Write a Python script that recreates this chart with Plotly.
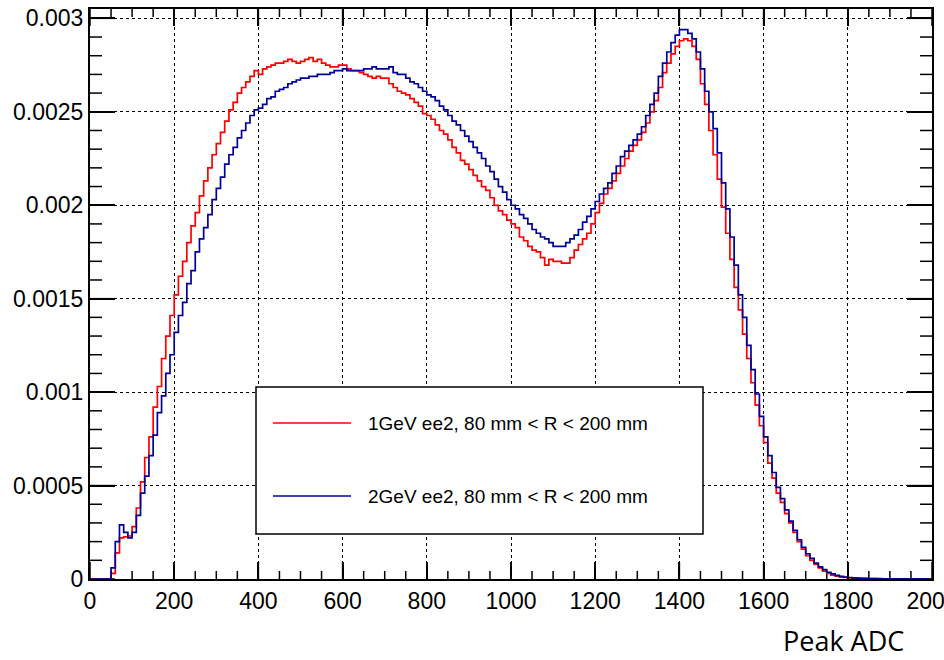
import plotly.graph_objects as go

# Histogram binning (ADC)
bin_start = 0
bin_width = 10
# Bin contents in units of 1e-4 (normalized entries), bins of 10 ADC from 0 to 2000
red_vals = [
    0, 0, 0, 0, 0,
    0.3, 1.4, 2.2, 2.25, 2.3, 2.8, 3.8, 5.2, 6.5, 7.6,
    9.2, 10.3, 11.8, 13.0, 14.1, 15.2, 16.2, 17.0, 18.0, 18.9,
    19.6, 20.5, 21.3, 22.0, 22.7, 23.3, 23.9, 24.5, 25.1, 25.5,
    26.0, 26.3, 26.6, 26.9, 27.2, 27.0, 27.3, 27.4, 27.5, 27.6,
    27.6, 27.7, 27.8, 27.7, 27.6, 27.7, 27.8, 27.9, 27.7, 27.8,
    27.6, 27.5, 27.4, 27.4, 27.5, 27.5, 27.3, 27.2, 27.2, 27.1,
    27.0, 26.9, 26.8, 26.9, 26.8, 26.8, 26.5, 26.3, 26.1, 26.0,
    25.9, 25.7, 25.5, 25.3, 24.9, 24.8, 24.6, 24.3, 24.0, 23.8,
    23.5, 23.1, 22.8, 22.4, 22.2, 21.9, 21.6, 21.3, 21.0, 20.8,
    20.4, 20.0, 19.7, 19.5, 19.2, 19.0, 18.8, 18.3, 18.1, 17.8,
    17.6, 17.5, 17.2, 16.8, 17.1, 17.0, 17.0, 16.9, 16.9, 17.2,
    17.6, 17.9, 18.2, 18.5, 19.0, 19.6, 20.1, 20.6, 20.9, 21.3,
    21.7, 22.1, 22.5, 22.9, 23.2, 23.5, 23.9, 24.4, 25.0, 25.6,
    26.3, 27.1, 27.6, 28.1, 28.5, 28.8, 28.9, 28.8, 28.5, 27.8,
    26.5, 25.4, 24.0, 22.7, 21.4, 19.9, 18.5, 17.1, 15.6, 14.4,
    13.1, 11.8, 10.5, 9.3, 8.2, 7.3, 6.2, 5.4, 4.6, 4.1,
    3.5, 3.0, 2.5, 2.0, 1.6, 1.25, 1.0, 0.78, 0.6, 0.42,
    0.3, 0.21, 0.15, 0.1, 0.08, 0.06, 0.05, 0.04, 0.03, 0.025,
    0.02, 0.015, 0.01, 0.008, 0.006, 0.005, 0.004, 0.004, 0.003, 0.003,
    0.002, 0.002, 0.002, 0.001, 0.001,
]
blue_vals = [
    0, 0, 0, 0, 0,
    0.6, 2.0, 2.9, 2.5, 2.2, 2.5, 3.4, 4.6, 5.5, 6.6,
    7.7, 8.9, 9.8, 11.0, 12.0, 13.2, 14.1, 14.8, 15.8, 16.5,
    17.5, 18.2, 18.8, 19.5, 20.3, 20.9, 21.5, 22.2, 22.7, 23.1,
    23.6, 24.0, 24.4, 24.8, 25.1, 25.2, 25.4, 25.7, 25.8, 26.1,
    26.2, 26.3, 26.5, 26.6, 26.7, 26.8, 26.8, 26.9, 26.9, 27.0,
    27.0, 27.0, 27.1, 27.2, 27.2, 27.3, 27.2, 27.2, 27.2, 27.2,
    27.3, 27.3, 27.4, 27.3, 27.3, 27.3, 27.4, 27.1, 27.0, 27.0,
    26.8, 26.6, 26.5, 26.3, 26.1, 25.9, 25.8, 25.6, 25.3, 25.1,
    24.8, 24.5, 24.3, 24.0, 23.7, 23.4, 23.1, 22.8, 22.5, 22.1,
    21.8, 21.4, 21.0, 20.7, 20.3, 20.0, 19.8, 19.5, 19.3, 19.0,
    18.7, 18.5, 18.3, 18.2, 18.0, 17.8, 17.8, 17.8, 18.0, 18.2,
    18.4, 18.7, 19.1, 19.4, 19.8, 20.2, 20.6, 20.9, 21.2, 21.7,
    22.1, 22.6, 22.9, 23.2, 23.5, 23.8, 24.2, 24.8, 25.4, 26.0,
    26.9, 27.6, 28.2, 28.7, 29.1, 29.4, 29.4, 29.2, 28.9, 28.2,
    27.3, 26.1, 25.0, 24.1, 22.8, 21.2, 19.8, 18.3, 16.8, 15.2,
    14.0, 12.5, 11.2, 9.9, 8.7, 7.6, 6.6, 5.7, 4.9, 4.3,
    3.7, 3.1, 2.6, 2.1, 1.7, 1.35, 1.1, 0.85, 0.65, 0.5,
    0.36, 0.27, 0.19, 0.14, 0.1, 0.08, 0.06, 0.05, 0.04, 0.03,
    0.025, 0.02, 0.015, 0.01, 0.008, 0.006, 0.005, 0.005, 0.004, 0.004,
    0.003, 0.003, 0.002, 0.002, 0.001,
]
value_unit = 1e-4

labels = ["1GeV ee2, 80 mm < R < 200 mm", "2GeV ee2, 80 mm < R < 200 mm"]
colors = ["#ff0000", "#000099"]

x_range = [0, 2000]
y_range = [0, 0.00305]
x_ticks = list(range(0, 2001, 200))
x_minor_ticks = list(range(0, 2001, 50))
y_ticks = [0, 0.0005, 0.001, 0.0015, 0.002, 0.0025, 0.003]
y_minor_ticks = [round(i * 0.0001, 4) for i in range(31)]


def step_xy(vals):
    xs = [bin_start + i * bin_width for i in range(len(vals) + 1)]
    ys = [v * value_unit for v in vals] + [vals[-1] * value_unit]
    return xs, ys


W, H = 944, 660
L, R, T, B = 90, 12, 9, 81
pw, ph = W - L - R, H - T - B
# axis units per pixel
ux = (x_range[1] - x_range[0]) / pw
uy = (y_range[1] - y_range[0]) / ph

fig = go.Figure()

# ROOT-style tick marks on all four sides, built from the tick arrays
tx, ty = [], []
for v in x_minor_ticks:
    ln = (17 if v in x_ticks else 8) * uy
    tx += [v, v, None, v, v, None]
    ty += [y_range[0], y_range[0] + ln, None, y_range[1], y_range[1] - ln, None]
for v in y_minor_ticks:
    ln = (25 if any(abs(v - t) < 1e-9 for t in y_ticks) else 12) * ux
    tx += [x_range[0], x_range[0] + ln, None, x_range[1], x_range[1] - ln, None]
    ty += [v, v, None, v, v, None]
fig.add_trace(go.Scatter(x=tx, y=ty, mode="lines", line=dict(color="black", width=1.5),
                         hoverinfo="skip", showlegend=False, connectgaps=False))

for vals, lab, col in zip([red_vals, blue_vals], labels, colors):
    xs, ys = step_xy(vals)
    fig.add_trace(go.Scatter(x=xs, y=ys, mode="lines", line=dict(color=col, width=1.7, shape="hv"),
                             name=lab, showlegend=False))


def px(x):
    return (x - L) / pw


def py(y):
    return (H - B - y) / ph


tickfont = dict(family="Liberation Sans, Arial, sans-serif", size=23, color="black")

base = dict(ticks="inside", tickwidth=1.5, tickcolor="black",
            showline=True, linecolor="black", linewidth=2, mirror="ticks",
            showgrid=True, gridcolor="black", griddash="dot", gridwidth=1,
            zeroline=False, tickfont=tickfont)

fig.update_xaxes(range=x_range, tickvals=x_ticks, ticklen=17, ticklabeloverflow="allow", **base)
fig.update_yaxes(range=y_range, tickvals=y_ticks, tickformat=".4~f", ticklen=25, **base)

fig.update_layout(
    template="none",
    width=W, height=H,
    margin=dict(l=L, r=R, t=T, b=B),
    paper_bgcolor="white", plot_bgcolor="white",
    showlegend=False,
)

# Legend box drawn in paper coordinates
shapes = [dict(type="rect", xref="paper", yref="paper", x0=px(256), x1=px(703), y0=py(534), y1=py(387),
               line=dict(color="black", width=1.5), fillcolor="white", layer="above")]
annots = []
for i, (lab, col) in enumerate(zip(labels, colors)):
    yy = [423, 496][i]
    shapes.append(dict(type="line", xref="paper", yref="paper", x0=px(273), x1=px(351), y0=py(yy), y1=py(yy),
                       line=dict(color=col, width=1.6), layer="above"))
    annots.append(dict(xref="paper", yref="paper", x=px(366), y=py(yy), xanchor="left", yanchor="middle",
                       text=lab, showarrow=False,
                       font=dict(family="Liberation Sans, Arial, sans-serif", size=19, color="black")))
annots.append(dict(xref="paper", yref="paper", x=px(906), y=py(641), xanchor="right", yanchor="middle",
                   text="Peak ADC", showarrow=False,
                   font=dict(family="Open Sans, sans-serif", size=27, color="black")))
fig.update_layout(shapes=shapes, annotations=annots)

fig.write_html("out.html")
